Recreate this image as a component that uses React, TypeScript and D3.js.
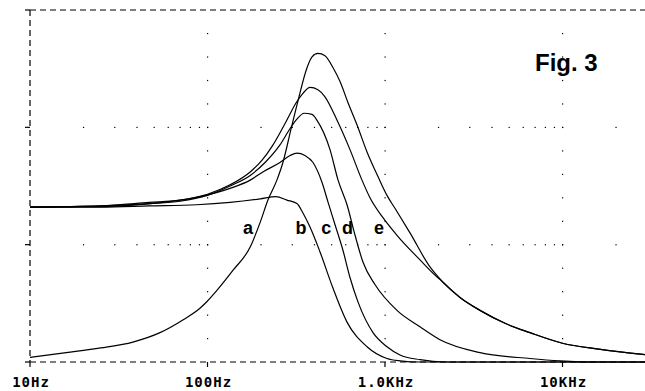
import React from 'react';
import * as d3 from 'd3';

// [frequency Hz, relative amplitude]
const curveA: [number, number][] = [
  [10, 0.04], [16, 0.08], [25, 0.12], [38, 0.17], [54, 0.25], [73, 0.36], [91, 0.46], [100, 0.52],
  [113, 0.61], [139, 0.78], [174, 0.98], [198, 1.19], [219, 1.38], [246, 1.55], [266, 1.7],
  [295, 1.98], [324, 2.23], [364, 2.51], [388, 2.6], [419, 2.63], [459, 2.61], [509, 2.51],
  [558, 2.39], [619, 2.21], [696, 2.02], [792, 1.79], [913, 1.58], [1026, 1.42], [1138, 1.31],
  [1383, 1.1], [1793, 0.81], [2122, 0.68], [2646, 0.55], [3429, 0.44], [4745, 0.33],
  [6562, 0.25], [10000, 0.16], [16000, 0.11], [30000, 0.06],
];
const curveB: [number, number][] = [
  [10, 1.32], [25, 1.32], [47, 1.33], [87, 1.34], [134, 1.36], [198, 1.39], [243, 1.41],
  [280, 1.38], [319, 1.35], [345, 1.27], [378, 1.15], [430, 0.94], [509, 0.63], [611, 0.34],
  [792, 0.13], [1026, 0.03], [1215, 0.01], [1575, 0], [30000, 0],
];
const curveC: [number, number][] = [
  [10, 1.32], [25, 1.325], [56, 1.36], [91, 1.41], [134, 1.48], [174, 1.55], [205, 1.62],
  [256, 1.7], [292, 1.76], [319, 1.78], [354, 1.76], [393, 1.7], [442, 1.53], [478, 1.36],
  [523, 1.17], [580, 0.95], [635, 0.72], [705, 0.51], [856, 0.25], [1026, 0.13], [1215, 0.06],
  [1575, 0.02], [2178, 0], [30000, 0],
];
const curveD: [number, number][] = [
  [10, 1.32], [25, 1.33], [47, 1.35], [70, 1.37], [100, 1.42], [134, 1.5], [174, 1.59],
  [211, 1.7], [256, 1.85], [292, 1.99], [319, 2.07], [350, 2.12], [388, 2.11], [414, 2.06],
  [490, 1.81], [544, 1.55], [611, 1.34], [678, 1.08], [752, 0.85], [878, 0.66], [1168, 0.44],
  [1575, 0.3], [2041, 0.19], [3429, 0.08], [6562, 0.03], [9681, 0.01], [16265, 0], [30000, 0],
];
const curveE: [number, number][] = [
  [10, 1.32], [25, 1.33], [47, 1.36], [70, 1.38], [100, 1.43], [134, 1.51], [174, 1.62],
  [203, 1.72], [234, 1.85], [273, 2.03], [319, 2.22], [345, 2.29], [378, 2.34], [419, 2.32],
  [459, 2.26], [537, 2.06], [635, 1.81], [742, 1.55], [823, 1.4], [974, 1.23], [1168, 1.08],
  [1575, 0.87], [1913, 0.74], [2122, 0.68], [2646, 0.55], [3429, 0.44], [4745, 0.33],
  [6562, 0.25], [10000, 0.16], [16000, 0.11], [30000, 0.06],
];

const xTickValues = [10, 100, 1000, 10000];
const xTickLabels = ['10Hz', '100Hz', '1.0KHz', '10KHz'];
const yTickValues = [0, 1, 2, 3];
const gridRowValues = [1, 2];
const gridColValues = [100, 1000, 10000];

const curveLabels = ['a', 'b', 'c', 'd', 'e'];
const curveLabelFreqs = [169, 336, 466, 615, 925];
const curveLabelValue = 1.09;
const figTitle = 'Fig. 3';

export default function App() {
  const W = 645;
  const H = 391;
  const x = d3.scaleLog().domain([10, 30000]).range([30, 30 + 177.5 * Math.log10(3000)]);
  const y = d3.scaleLinear().domain([0, 3]).range([362, 10]);
  const line = d3
    .line<[number, number]>()
    .x((d) => x(d[0]))
    .y((d) => y(d[1]))
    .curve(d3.curveMonotoneX);

  const series = [curveA, curveB, curveC, curveD, curveE];

  const minor: number[] = [];
  for (let dec = 10; dec <= 10000; dec *= 10) {
    for (let m = 1; m <= 9; m++) {
      const v = dec * m;
      if (v > 10 && v <= 30000) minor.push(v);
    }
  }
  const colDots = d3.range(1, 15).map((k) => k * 0.2);

  const x0 = x(10);
  const yTop = y(3);
  const yBot = y(0);
  const dash = '6,4';

  return (
    <div style={{ position: 'absolute', left: 0, top: 0 }}>
      <svg width={W} height={H} style={{ display: 'block', background: '#fff' }}>
        <rect x={0} y={0} width={W} height={H} fill="#fff" />
        {gridRowValues.map((gv) =>
          minor.map((m) => (
            <rect key={`r${gv}-${m}`} x={x(m) - 0.5} y={y(gv) - 0.5} width={1.2} height={1.2} fill="#000" />
          ))
        )}
        {gridColValues.map((gc) =>
          colDots.map((v) => (
            <rect key={`c${gc}-${v}`} x={x(gc) - 0.5} y={y(v) - 0.5} width={1.2} height={1.2} fill="#000" />
          ))
        )}
        <line x1={x0} x2={W} y1={yTop} y2={yTop} stroke="#000" strokeWidth={1.2} strokeDasharray={dash} />
        <line x1={x0} x2={W} y1={yBot} y2={yBot} stroke="#000" strokeWidth={1.2} strokeDasharray={dash} />
        <line x1={x0} x2={x0} y1={yTop} y2={yBot} stroke="#000" strokeWidth={1.2} strokeDasharray={dash} />
        {yTickValues.map((v) => (
          <line key={`yt${v}`} x1={x0 - 5} x2={x0} y1={y(v)} y2={y(v)} stroke="#000" strokeWidth={1.2} />
        ))}
        {xTickValues.map((v, i) => (
          <g key={`xt${v}`}>
            <line x1={x(v)} x2={x(v)} y1={yBot} y2={yBot + 5} stroke="#000" strokeWidth={1.2} />
            <text
              x={x(v) + 1}
              y={387}
              textAnchor="middle"
              fontFamily="'DejaVu Sans Mono', monospace"
              fontWeight="bold"
              fontSize={14}
              letterSpacing={1}
              fill="#000"
            >
              {xTickLabels[i]}
            </text>
          </g>
        ))}
        {series.map((s, i) => (
          <path key={`s${i}`} d={line(s) || ''} fill="none" stroke="#000" strokeWidth={1.2} />
        ))}
        {curveLabels.map((l, i) => (
          <text
            key={`cl${l}`}
            x={x(curveLabelFreqs[i])}
            y={y(curveLabelValue)}
            textAnchor="middle"
            fontFamily="'Liberation Sans', Arial, sans-serif"
            fontWeight="bold"
            fontSize={18}
            fill="#000"
          >
            {l}
          </text>
        ))}
        <text
          x={535}
          y={71}
          fontFamily="'Liberation Sans', Arial, sans-serif"
          fontWeight="bold"
          fontSize={24}
          fill="#000"
        >
          {figTitle}
        </text>
      </svg>
    </div>
  );
}
